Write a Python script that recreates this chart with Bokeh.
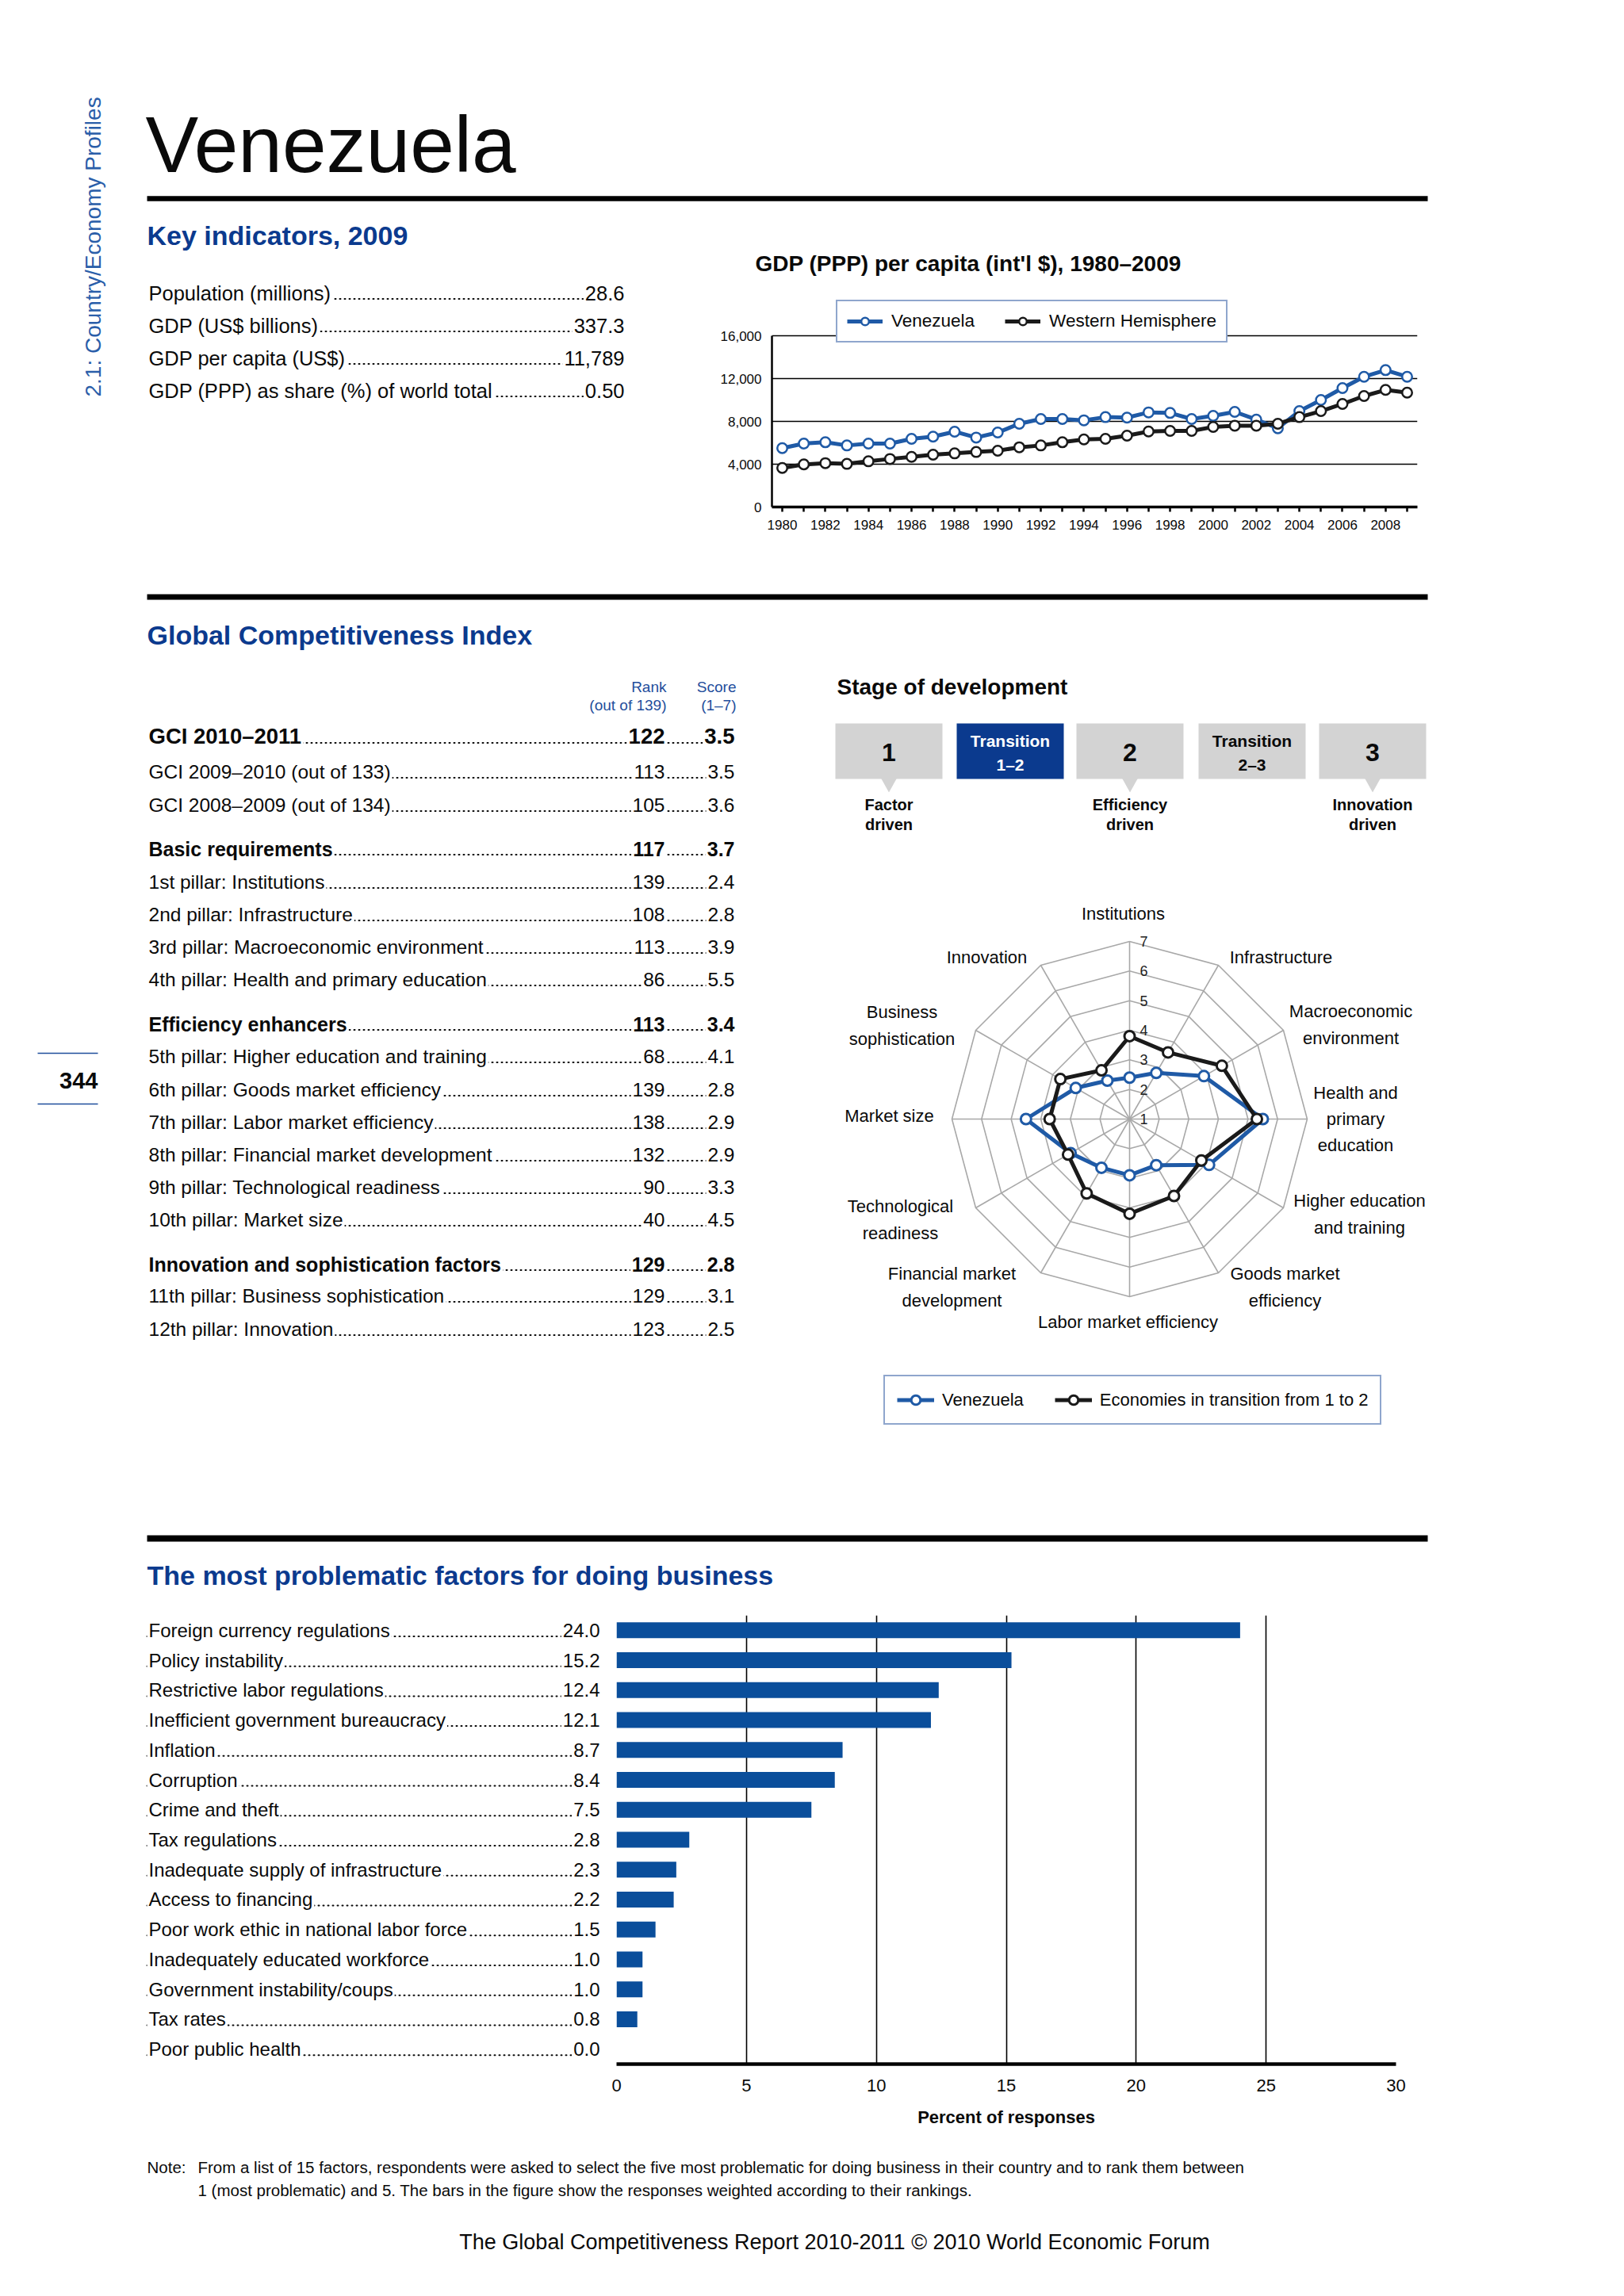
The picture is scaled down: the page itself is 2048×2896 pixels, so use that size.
import math
from bokeh.plotting import figure
from bokeh.models import (Range1d, FactorRange, FixedTicker, Legend, LegendItem, Spacer,
                          NumeralTickFormatter, ColumnDataSource)
from bokeh.layouts import row, column
from bokeh.core.properties import value
from bokeh.transform import dodge
from bokeh.embed import file_html
from bokeh.resources import INLINE

# ------------------------------------------------------------------ data
KEY_LABELS = ["Population (millions)", "GDP (US$ billions)", "GDP per capita (US$)",
              "GDP (PPP) as share (%) of world total"]
KEY_VALUES = ["28.6", "337.3", "11,789", "0.50"]

YEARS = list(range(1980, 2010))
GDP_VEN = [5500, 5930, 6050, 5750, 5930, 5930, 6370, 6570, 7040, 6490, 6960, 7780, 8220, 8220, 8100,
           8400, 8350, 8840, 8790, 8220, 8520, 8890, 8170, 7360, 8960, 10000, 11110, 12170, 12790, 12170]
GDP_WH = [3650, 3980, 4100, 4030, 4270, 4490, 4690, 4890, 5010, 5140, 5260, 5580, 5750, 6050, 6320,
          6370, 6670, 7060, 7110, 7110, 7480, 7600, 7600, 7780, 8400, 8960, 9630, 10370, 10940, 10690]
GDP_TICKS = [0, 4000, 8000, 12000, 16000]

GCI_LABELS = ["GCI 2010\u20132011", "GCI 2009\u20132010 (out of 133)", "GCI 2008\u20132009 (out of 134)",
              "Basic requirements", "1st pillar: Institutions", "2nd pillar: Infrastructure",
              "3rd pillar: Macroeconomic environment", "4th pillar: Health and primary education",
              "Efficiency enhancers", "5th pillar: Higher education and training",
              "6th pillar: Goods market efficiency", "7th pillar: Labor market efficiency",
              "8th pillar: Financial market development", "9th pillar: Technological readiness",
              "10th pillar: Market size", "Innovation and sophistication factors",
              "11th pillar: Business sophistication", "12th pillar: Innovation"]
GCI_RANKS = ["122", "113", "105", "117", "139", "108", "113", "86", "113", "68", "139", "138",
             "132", "90", "40", "129", "129", "123"]
GCI_SCORES = ["3.5", "3.5", "3.6", "3.7", "2.4", "2.8", "3.9", "5.5", "3.4", "4.1", "2.8", "2.9",
              "2.9", "3.3", "4.5", "2.8", "3.1", "2.5"]
GCI_BOLD = [0, 3, 8, 15]

STAGES = ["1", "Transition\n1\u20132", "2", "Transition\n2\u20133", "3"]
STAGE_CURRENT = 1
STAGE_DRIVERS = ["Factor\ndriven", "", "Efficiency\ndriven", "", "Innovation\ndriven"]

PILLARS = ["Institutions", "Infrastructure", "Macroeconomic\nenvironment", "Health and\nprimary\neducation",
           "Higher education\nand training", "Goods market\nefficiency", "Labor market efficiency",
           "Financial market\ndevelopment", "Technological\nreadiness", "Market size",
           "Business\nsophistication", "Innovation"]
VEN_SCORES = [2.4, 2.8, 3.9, 5.5, 4.1, 2.8, 2.9, 2.9, 3.3, 4.5, 3.1, 2.5]
TRANS_SCORES = [3.8, 3.6, 4.6, 5.3, 3.8, 4.0, 4.2, 3.9, 3.4, 3.7, 3.7, 2.9]
RADAR_LEVELS = [1, 2, 3, 4, 5, 6, 7]

FACTORS = ["Foreign currency regulations", "Policy instability", "Restrictive labor regulations",
           "Inefficient government bureaucracy", "Inflation", "Corruption", "Crime and theft",
           "Tax regulations", "Inadequate supply of infrastructure", "Access to financing",
           "Poor work ethic in national labor force", "Inadequately educated workforce",
           "Government instability/coups", "Tax rates", "Poor public health"]
FACTOR_VALUES = [24.0, 15.2, 12.4, 12.1, 8.7, 8.4, 7.5, 2.8, 2.3, 2.2, 1.5, 1.0, 1.0, 0.8, 0.0]
BAR_TICKS = [0, 5, 10, 15, 20, 25, 30]

# ------------------------------------------------------------------ style
FONT = "Liberation Sans"
BLACK = "#0a0a0a"
HEAD = "#0b3a8e"
LBLUE = "#2a5ea9"
SBLUE = "#1f4e9c"
LINE_BLUE = "#1f5aa6"
BAR_BLUE = "#0a4e9b"
GRAY_BOX = "#d3d3d3"
RING = "#a8a8a8"


def style(p):
    p.outline_line_color = None
    p.background_fill_color = "white"
    p.border_fill_color = "white"


def nogrid(p):
    p.xgrid.visible = False
    p.ygrid.visible = False


def pxfig(x0, y0, w, h, **kw):
    p = figure(width=w, height=h, x_range=Range1d(x0, x0 + w), y_range=Range1d(y0 + h, y0),
               output_backend="svg", toolbar_location=None, tools="", min_border=0,
               x_axis_location=None, y_axis_location=None, **kw)
    style(p)
    nogrid(p)
    return p


def put(p, x, yb, s, size, color=BLACK, bold=False, align="left", font=FONT, bg=None,
        angle=0.0, lh=1.2, center=False):
    """yb is the text baseline (or the block centre when center=True)."""
    yc = yb if center else yb - 0.35 * size
    kw = dict(x=[x], y=[yc], text=[s], text_font=value(font), text_font_size=f"{size}px",
              text_color=color, text_font_style="bold" if bold else "normal",
              text_align=align, text_baseline="middle", angle=angle, text_line_height=lh)
    if bg:
        kw.update(background_fill_color=bg, padding=2)
    return p.text(**kw)


def rule(p, x0, x1, y, w):
    p.segment(x0=[x0], y0=[y], x1=[x1], y1=[y], line_color="black", line_width=w)


def leader(p, x0, x1, ys, width=2.0):
    p.segment(x0=[x0] * len(ys), y0=ys, x1=[x1] * len(ys), y1=ys, line_color=BLACK,
              line_width=width, line_dash="1 5", line_cap="round")


# ------------------------------------------------------------------ left margin
margin = pxfig(0, 0, 178, 2890)
put(margin, 117, 500, "2.1: Country/Economy Profiles", 28, LBLUE, angle=math.pi / 2, center=True)
margin.segment(x0=[47, 47], y0=[1328, 1392], x1=[123, 123], y1=[1328, 1392],
               line_color=SBLUE, line_width=1.6)
put(margin, 123, 1373, "344", 29, BLACK, bold=True, align="right")

# ------------------------------------------------------------------ header
header = pxfig(178, 0, 1862, 352)
put(header, 183, 216, "Venezuela", 100, BLACK)
rule(header, 185, 1800, 250, 6.5)
put(header, 185, 308, "Key indicators, 2009", 34, HEAD, bold=True)
put(header, 952, 342, "GDP (PPP) per capita (int'l $), 1980\u20132009", 28, BLACK, bold=True)

# ------------------------------------------------------------------ key indicators + GDP chart
FRAME_BOTTOM = 639          # pixel row of GDP = 0
ind = figure(width=722, height=393, output_backend="svg", toolbar_location=None, tools="",
             x_range=Range1d(178, 900), y_range=Range1d(FRAME_BOTTOM, 352),
             min_border_left=0, min_border_right=0, min_border_top=0,
             min_border_bottom=745 - FRAME_BOTTOM, x_axis_location=None, y_axis_location=None)
style(ind)
nogrid(ind)
KEY_BASE = [378, 419, 460, 501]
leader(ind, 188, 786, [b - 1.5 for b in KEY_BASE])
for lab, val, yb in zip(KEY_LABELS, KEY_VALUES, KEY_BASE):
    put(ind, 185, yb, lab, 25.5, bg="white")
    put(ind, 789, yb, val, 25.5, align="right", bg="white")

px_per_year = (1774 - 986) / 29.0
x_start = 1980 - 13 / px_per_year
px_per_unit = 216 / 16000.0
gdp = figure(width=910, height=393, output_backend="svg", toolbar_location=None, tools="",
             x_range=Range1d(x_start, x_start + 814 / px_per_year),
             y_range=Range1d(0, (FRAME_BOTTOM - 352) / px_per_unit),
             min_border_left=73, min_border_right=23, min_border_top=0,
             min_border_bottom=745 - FRAME_BOTTOM)
style(gdp)
gdp.xgrid.visible = False
gdp.ygrid.ticker = FixedTicker(ticks=GDP_TICKS[1:])
gdp.ygrid.grid_line_color = "black"
gdp.ygrid.grid_line_width = 1.5
gdp.yaxis.ticker = FixedTicker(ticks=GDP_TICKS)
gdp.yaxis.bounds = (GDP_TICKS[0], GDP_TICKS[-1])
gdp.yaxis.formatter = NumeralTickFormatter(format="0,0")
gdp.yaxis.major_tick_out = 0
gdp.yaxis.major_tick_in = 0
gdp.yaxis.minor_tick_out = 0
gdp.yaxis.minor_tick_in = 0
gdp.yaxis.axis_line_width = 2.5
gdp.yaxis.major_label_standoff = 13
gdp.xaxis.ticker = FixedTicker(ticks=[y for y in YEARS if y % 2 == 0],
                               minor_ticks=[y for y in YEARS if y % 2 == 1])
gdp.xaxis.axis_line_width = 3.5
gdp.xaxis.major_tick_out = 6
gdp.xaxis.major_tick_in = 0
gdp.xaxis.minor_tick_out = 6
gdp.xaxis.minor_tick_in = 0
gdp.xaxis.major_tick_line_width = 2.5
gdp.xaxis.minor_tick_line_width = 2.5
gdp.xaxis.major_label_standoff = 10
for ax in (gdp.xaxis, gdp.yaxis):
    ax.major_label_text_font = FONT
    ax.major_label_text_font_size = "17px"
    ax.major_label_text_color = BLACK
    ax.axis_line_color = "black"
    ax.major_tick_line_color = "black"
    ax.minor_tick_line_color = "black"
l1 = gdp.line(YEARS, GDP_VEN, line_width=5, line_color=LINE_BLUE)
s1 = gdp.scatter(YEARS, GDP_VEN, size=12.5, fill_color="white", line_color=LINE_BLUE, line_width=2.5)
l2 = gdp.line(YEARS, GDP_WH, line_width=5, line_color="#1a1a1a")
s2 = gdp.scatter(YEARS, GDP_WH, size=12.5, fill_color="white", line_color="#1a1a1a", line_width=2.5)
leg1 = Legend(items=[LegendItem(label="Venezuela", renderers=[l1, s1]),
                     LegendItem(label="Western Hemisphere", renderers=[l2, s2])],
              location=(81, FRAME_BOTTOM - 432), orientation="horizontal", margin=0, padding=12,
              spacing=38, glyph_width=45, glyph_height=24, label_height=24, label_standoff=11,
              label_text_font=FONT, label_text_font_size="22.5px", label_text_color=BLACK,
              border_line_color=SBLUE, border_line_width=2.5,
              background_fill_color="white", background_fill_alpha=1.0)
gdp.add_layout(leg1)

row2 = row(ind, gdp, Spacer(width=230, height=393))

# full-width rule between the two upper sections
rule2 = pxfig(178, 745, 1862, 15)
rule(rule2, 185, 1800, 752.5, 7)

# ------------------------------------------------------------------ GCI table
gci = pxfig(178, 760, 862, 1140)
put(gci, 185, 812, "Global Competitiveness Index", 34, HEAD, bold=True)
put(gci, 840, 873, "Rank", 19, SBLUE, align="right")
put(gci, 840, 896, "(out of 139)", 19, SBLUE, align="right")
put(gci, 928, 873, "Score", 19, SBLUE, align="right")
put(gci, 928, 896, "(1\u20137)", 19, SBLUE, align="right")
GCI_BASE = [938, 982, 1024, 1079, 1121, 1162, 1203, 1244, 1300, 1341, 1383, 1424, 1465, 1506,
            1547, 1603, 1643, 1685]
leader(gci, 188, 925, [b - 1.5 for b in GCI_BASE])
for i, (lab, rk, sc, yb) in enumerate(zip(GCI_LABELS, GCI_RANKS, GCI_SCORES, GCI_BASE)):
    bold = i in GCI_BOLD
    size = 27.5 if i == 0 else (25 if bold else 24.5)
    put(gci, 185, yb, lab, size, bold=bold, bg="white")
    put(gci, 840, yb, rk, size, bold=bold, align="right", bg="white")
    put(gci, 928, yb, sc, size, bold=bold, align="right", bg="white")

# ------------------------------------------------------------------ stage of development
stage = pxfig(1040, 760, 1000, 305)
put(stage, 1055, 876, "Stage of development", 28, BLACK, bold=True)
BOX_X = [1053, 1206, 1357, 1511, 1663]
BOX_W = 135
stage.quad(left=BOX_X, right=[x + BOX_W for x in BOX_X], top=[912] * 5, bottom=[982] * 5,
           fill_color=[HEAD if i == STAGE_CURRENT else GRAY_BOX for i in range(5)],
           line_color=None)
tri_x, tri_y = [], []
for i, d in enumerate(STAGE_DRIVERS):
    cx = BOX_X[i] + BOX_W / 2
    if d:
        tri_x.append([cx - 10, cx + 10, cx])
        tri_y.append([981, 981, 999])
stage.patches(tri_x, tri_y, fill_color=GRAY_BOX, line_color=None)
for i, s in enumerate(STAGES):
    cx = BOX_X[i] + BOX_W / 2
    col = "white" if i == STAGE_CURRENT else BLACK
    if "\n" in s:
        put(stage, cx, 949, s, 21, col, bold=True, align="center", lh=1.28, center=True)
    else:
        put(stage, cx, 960, s, 32, col, bold=True, align="center")
    if STAGE_DRIVERS[i]:
        put(stage, cx, 1027, STAGE_DRIVERS[i], 20, BLACK, bold=True, align="center",
            lh=1.17, center=True)

# ------------------------------------------------------------------ radar
U = 224 / 6.0
CX, CY = 1424, 1411
radar = figure(width=1000, height=835, output_backend="svg", toolbar_location=None, tools="",
               x_range=Range1d((1040 - CX) / U, (2040 - CX) / U),
               y_range=Range1d((CY - 1900) / U, (CY - 1065) / U),
               min_border=0, x_axis_location=None, y_axis_location=None)
style(radar)
nogrid(radar)
n = len(PILLARS)
angs = [2 * math.pi * i / n for i in range(n)]
rmax = RADAR_LEVELS[-1] - RADAR_LEVELS[0]
ring_xs, ring_ys = [], []
for lv in RADAR_LEVELS[1:]:
    r = lv - RADAR_LEVELS[0]
    ring_xs.append([r * math.sin(a) for a in angs + [0.0]])
    ring_ys.append([r * math.cos(a) for a in angs + [0.0]])
radar.multi_line(ring_xs, ring_ys, line_color=RING, line_width=1.6)
radar.segment(x0=[0] * n, y0=[0] * n, x1=[rmax * math.sin(a) for a in angs],
              y1=[rmax * math.cos(a) for a in angs], line_color=RING, line_width=1.6)
radar.text(x=[18 / U] * len(RADAR_LEVELS), y=[lv - RADAR_LEVELS[0] for lv in RADAR_LEVELS],
           text=[str(lv) for lv in RADAR_LEVELS], text_font=value(FONT), text_font_size="18px",
           text_color="#222222", text_align="center", text_baseline="middle")


def polar(vals):
    xs = [(v - RADAR_LEVELS[0]) * math.sin(a) for v, a in zip(vals, angs)]
    ys = [(v - RADAR_LEVELS[0]) * math.cos(a) for v, a in zip(vals, angs)]
    return xs, ys


vx, vy = polar(VEN_SCORES)
tx, ty = polar(TRANS_SCORES)
rl1 = radar.line(vx + vx[:1], vy + vy[:1], line_width=5, line_color=LINE_BLUE, line_join="round")
rs1 = radar.scatter(vx, vy, size=13, fill_color="white", line_color=LINE_BLUE, line_width=3)
rl2 = radar.line(tx + tx[:1], ty + ty[:1], line_width=5, line_color="#1a1a1a", line_join="round")
rs2 = radar.scatter(tx, ty, size=13, fill_color="white", line_color="#1a1a1a", line_width=3)

LABEL_POS = [(1416, 1152), (1615, 1207), (1703, 1292), (1709, 1411), (1714, 1531), (1620, 1623),
             (1422, 1667), (1200, 1623), (1135, 1538), (1121, 1407), (1137, 1293), (1244, 1207)]
radar.text(x=[(px - CX) / U for px, _ in LABEL_POS], y=[(CY - py) / U for _, py in LABEL_POS],
           text=PILLARS, text_font=value(FONT), text_font_size="22px", text_color=BLACK,
           text_align="center", text_baseline="middle", text_line_height=1.33)
leg2 = Legend(items=[LegendItem(label="Venezuela", renderers=[rl1, rs1]),
                     LegendItem(label="Economies in transition from 1 to 2", renderers=[rl2, rs2])],
              location=(74, 1900 - 1797), orientation="horizontal", margin=0, padding=15, spacing=39,
              glyph_width=47, glyph_height=29, label_height=29, label_standoff=10,
              label_text_font=FONT, label_text_font_size="22px", label_text_color=BLACK,
              border_line_color=SBLUE, border_line_width=2.5,
              background_fill_color="white", background_fill_alpha=1.0)
radar.add_layout(leg2)

row3 = row(gci, column(stage, radar))

# ------------------------------------------------------------------ problematic factors
head4 = pxfig(178, 1900, 1862, 127)
rule(head4, 185, 1800, 1940, 8)
put(head4, 185, 1998, "The most problematic factors for doing business", 34, HEAD, bold=True)

fr = FactorRange(factors=list(reversed(FACTORS)), range_padding=0)
src = ColumnDataSource(dict(factor=FACTORS, val=FACTOR_VALUES,
                            vtxt=[f"{v:.1f}" for v in FACTOR_VALUES],
                            xl=[185] * len(FACTORS), xr=[758] * len(FACTORS)))

labf = figure(width=592, height=673, output_backend="svg", toolbar_location=None, tools="",
              x_range=Range1d(178, 770), y_range=fr, min_border_left=0, min_border_right=0,
              min_border_top=10, min_border_bottom=97, x_axis_location=None, y_axis_location=None)
style(labf)
nogrid(labf)
labf.segment(x0="xl", x1="xr", y0=dodge("factor", -0.2, range=fr), y1=dodge("factor", -0.2, range=fr),
             source=src, line_color=BLACK, line_width=2, line_dash="1 5", line_cap="round")
labf.text(x="xl", y="factor", text="factor", source=src, text_font=value(FONT),
          text_font_size="24px", text_color=BLACK, text_align="left", text_baseline="middle",
          background_fill_color="white", padding=2)
labf.text(x="xr", y="factor", text="vtxt", source=src, text_font=value(FONT),
          text_font_size="24px", text_color=BLACK, text_align="right", text_baseline="middle",
          background_fill_color="white", padding=2)

bar = figure(width=1020, height=673, output_backend="svg", toolbar_location=None, tools="",
             x_range=Range1d(BAR_TICKS[0], BAR_TICKS[-1]), y_range=fr,
             min_border_left=7, min_border_right=30, min_border_top=10, min_border_bottom=97,
             y_axis_location=None)
style(bar)
bar.hbar(y="factor", right="val", left=0, height=0.53, source=src, fill_color=BAR_BLUE,
         line_color=None)
bar.ygrid.visible = False
bar.xgrid.ticker = FixedTicker(ticks=BAR_TICKS)
bar.xgrid.grid_line_color = "black"
bar.xgrid.grid_line_width = 1.6
bar.xaxis.ticker = FixedTicker(ticks=BAR_TICKS)
bar.xaxis.axis_line_width = 4.5
bar.xaxis.axis_line_color = "black"
bar.xaxis.major_tick_out = 0
bar.xaxis.major_tick_in = 0
bar.xaxis.minor_tick_out = 0
bar.xaxis.minor_tick_in = 0
bar.xaxis.major_label_standoff = 19
bar.xaxis.major_label_text_font = FONT
bar.xaxis.major_label_text_font_size = "22px"
bar.xaxis.major_label_text_color = BLACK
bar.xaxis.axis_label = "Percent of responses"
bar.xaxis.axis_label_text_font = FONT
bar.xaxis.axis_label_text_font_size = "22px"
bar.xaxis.axis_label_text_font_style = "bold"
bar.xaxis.axis_label_text_color = BLACK
bar.xaxis.axis_label_standoff = 17

row5 = row(labf, bar, Spacer(width=250, height=673))

# ------------------------------------------------------------------ note / footer
note = pxfig(178, 2700, 1862, 190)
put(note, 185, 2740, "Note:", 20.5)
put(note, 249, 2740, "From a list of 15 factors, respondents were asked to select the five most "
    "problematic for doing business in their country and to rank them between", 20.5)
put(note, 249, 2769, "1 (most problematic) and 5. The bars in the figure show the responses "
    "weighted according to their rankings.", 20.5)
put(note, 1052, 2837, "The Global Competitiveness Report 2010-2011 \u00a9 2010 World Economic Forum",
    27, align="center")

right = column(header, row2, rule2, row3, head4, row5, note)
root = row(margin, right)

open("out.html", "w").write(file_html(root, INLINE, "Venezuela"))
